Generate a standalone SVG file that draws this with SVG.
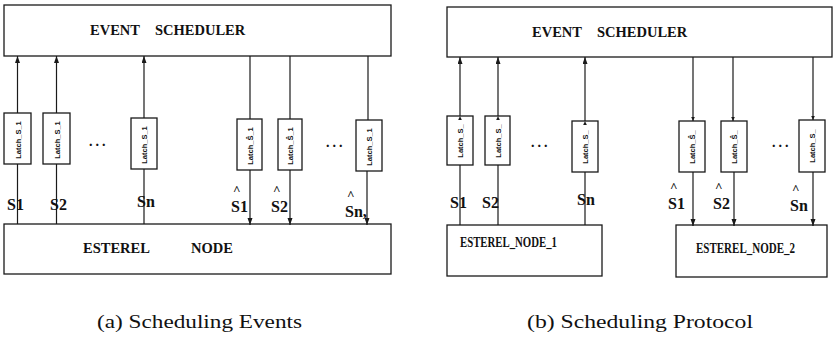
<svg xmlns="http://www.w3.org/2000/svg" width="833" height="340" viewBox="0 0 833 340">
<style>
.box{fill:#fff;stroke:#1a1a1a;stroke-width:1.3}
.ln{fill:none;stroke:#1a1a1a;stroke-width:1.2}
.big{font-family:"Liberation Serif",serif;font-weight:bold;font-size:14.5px;fill:#111}
.lat{font-family:"Liberation Sans",sans-serif;font-weight:bold;font-size:7.5px;fill:#111;text-anchor:middle}
.lab{font-family:"Liberation Serif",serif;font-weight:bold;font-size:16px;fill:#111}
.hat{font-family:"Liberation Serif",serif;font-weight:bold;font-size:13px;fill:#111}
.dots{font-family:"Liberation Serif",serif;font-weight:bold;font-size:14px;fill:#111;letter-spacing:3px}
.cap{font-family:"Liberation Serif",serif;font-size:18px;fill:#111}
</style>
<defs>
<marker id="ah" markerUnits="userSpaceOnUse" markerWidth="8" markerHeight="6" refX="7" refY="2.5" orient="auto"><path d="M0,0 L7,2.5 L0,5 z" fill="#1a1a1a"/></marker>
<marker id="as" markerUnits="userSpaceOnUse" markerWidth="6" markerHeight="5" refX="4" refY="1.8" orient="auto"><path d="M0,0 L4,1.8 L0,3.6 z" fill="#1a1a1a"/></marker>
</defs>

<rect width="833" height="340" fill="#fff"/>

<!-- Panel (a) -->
<g id="a-scheduler"><rect class="box" x="4" y="5" width="387" height="51"/><text class="big" y="35"><tspan x="90">EVENT</tspan><tspan x="155">SCHEDULER</tspan></text></g>
<g id="a-node"><rect class="box" x="4" y="224" width="387" height="50"/><text class="big" y="253"><tspan x="83">ESTEREL</tspan><tspan x="191">NODE</tspan></text></g>

<g id="a-latch1"><rect class="box" x="4" y="113" width="27" height="51"/><text class="lat" transform="translate(20.5,140) rotate(-90)">Latch_S_1</text></g>
<g id="a-latch2"><rect class="box" x="43" y="113" width="27" height="51"/><text class="lat" transform="translate(59.5,140) rotate(-90)">Latch_S_1</text></g>
<g id="a-latch3"><rect class="box" x="131" y="118" width="26" height="51"/><text class="lat" transform="translate(147,145) rotate(-90)">Latch_S_1</text></g>
<g id="a-latch4"><rect class="box" x="237" y="119" width="25" height="51"/><text class="lat" transform="translate(252.5,146) rotate(-90)">Latch_Ŝ_1</text></g>
<g id="a-latch5"><rect class="box" x="278" y="119" width="24" height="51"/><text class="lat" transform="translate(293,146) rotate(-90)">Latch_Ŝ_1</text></g>
<g id="a-latch6"><rect class="box" x="356" y="120" width="26" height="51"/><text class="lat" transform="translate(372,147) rotate(-90)">Latch_S_1</text></g>

<!-- Panel (b) -->
<g id="b-scheduler"><rect class="box" x="447" y="7" width="385" height="50"/><text class="big" y="37"><tspan x="532">EVENT</tspan><tspan x="597">SCHEDULER</tspan></text></g>
<g id="b-node1"><rect class="box" x="447" y="225" width="155" height="51"/><text class="big" x="460" y="247" textLength="97" lengthAdjust="spacingAndGlyphs" style="font-size:14px">ESTEREL_NODE_1</text></g>
<g id="b-node2"><rect class="box" x="676" y="225" width="151" height="52"/><text class="big" x="696" y="253" textLength="99" lengthAdjust="spacingAndGlyphs" style="font-size:14px">ESTEREL_NODE_2</text></g>

<g id="b-latch1"><rect class="box" x="447" y="116" width="26" height="49"/><text class="lat" transform="translate(463,141) rotate(-90)">Latch_S_</text></g>
<g id="b-latch2"><rect class="box" x="485" y="116" width="25" height="49"/><text class="lat" transform="translate(500.5,141) rotate(-90)">Latch_S_</text></g>
<g id="b-latch3"><rect class="box" x="572" y="121" width="26" height="51"/><text class="lat" transform="translate(588,147) rotate(-90)">Latch_S_</text></g>
<g id="b-latch4"><rect class="box" x="679" y="121" width="26" height="51"/><text class="lat" transform="translate(695,147) rotate(-90)">Latch_Ŝ_</text></g>
<g id="b-latch5"><rect class="box" x="721" y="121" width="26" height="51"/><text class="lat" transform="translate(737,147) rotate(-90)">Latch_Ŝ_</text></g>
<g id="b-latch6"><rect class="box" x="799" y="120" width="26" height="52"/><text class="lat" transform="translate(815,146) rotate(-90)">Latch_S_</text></g>

<g id="connectors">
<line class="ln" x1="17.5" y1="113" x2="17.5" y2="56" marker-end="url(#ah)"/>
<line class="ln" x1="56.5" y1="113" x2="56.5" y2="56" marker-end="url(#ah)"/>
<line class="ln" x1="144" y1="118" x2="144" y2="56" marker-end="url(#ah)"/>
<line class="ln" x1="17.5" y1="164" x2="17.5" y2="224"/>
<line class="ln" x1="56.5" y1="164" x2="56.5" y2="224"/>
<line class="ln" x1="144" y1="169" x2="144" y2="224"/>
<line class="ln" x1="250" y1="56" x2="250" y2="119"/>
<line class="ln" x1="290" y1="56" x2="290" y2="119"/>
<line class="ln" x1="368" y1="56" x2="368" y2="120"/>
<line class="ln" x1="250" y1="170" x2="250" y2="225" marker-end="url(#ah)"/>
<line class="ln" x1="290" y1="170" x2="290" y2="225" marker-end="url(#ah)"/>
<line class="ln" x1="367" y1="171" x2="367" y2="225" marker-end="url(#ah)"/>
<line class="ln" x1="460" y1="116" x2="460" y2="57" marker-start="url(#as)" marker-end="url(#ah)"/>
<line class="ln" x1="498" y1="116" x2="498" y2="57" marker-start="url(#as)" marker-end="url(#ah)"/>
<line class="ln" x1="585" y1="121" x2="585" y2="57" marker-start="url(#as)" marker-end="url(#ah)"/>
<line class="ln" x1="460" y1="165" x2="460" y2="225"/>
<line class="ln" x1="498" y1="165" x2="498" y2="225"/>
<line class="ln" x1="585" y1="172" x2="585" y2="225"/>
<line class="ln" x1="693" y1="57" x2="693" y2="121" marker-end="url(#as)"/>
<line class="ln" x1="733" y1="57" x2="733" y2="121" marker-end="url(#as)"/>
<line class="ln" x1="813" y1="57" x2="813" y2="120" marker-end="url(#as)"/>
<line class="ln" x1="693" y1="172" x2="693" y2="226" marker-end="url(#ah)"/>
<line class="ln" x1="734" y1="172" x2="734" y2="226" marker-end="url(#ah)"/>
<line class="ln" x1="813" y1="172" x2="813" y2="226" marker-end="url(#ah)"/>
</g>

<g id="labels">
<text class="lab" x="7" y="210">S1</text>
<text class="lab" x="50" y="210">S2</text>
<text class="lab" x="137" y="207">Sn</text>
<text class="hat" x="233" y="194">^</text><text class="lab" x="231" y="212">S1</text>
<text class="hat" x="273" y="194">^</text><text class="lab" x="271" y="212">S2</text>
<text class="hat" x="347" y="199">^</text><text class="lab" x="345" y="217">Sn,</text>
<text class="dots" x="89" y="146">...</text>
<text class="dots" x="326" y="147">...</text>

<text class="lab" x="450" y="208">S1</text>
<text class="lab" x="482" y="208">S2</text>
<text class="lab" x="577" y="205">Sn</text>
<text class="hat" x="670" y="191">^</text><text class="lab" x="668" y="209">S1</text>
<text class="hat" x="715" y="191">^</text><text class="lab" x="713" y="209">S2</text>
<text class="hat" x="792" y="193">^</text><text class="lab" x="790" y="211">Sn</text>
<text class="dots" x="531" y="147">...</text>
<text class="dots" x="772" y="147">...</text>

<text class="cap" x="97" y="328" textLength="205" lengthAdjust="spacingAndGlyphs">(a) Scheduling Events</text>
<text class="cap" x="527" y="328" textLength="226" lengthAdjust="spacingAndGlyphs">(b) Scheduling Protocol</text>
</g>
</svg>
